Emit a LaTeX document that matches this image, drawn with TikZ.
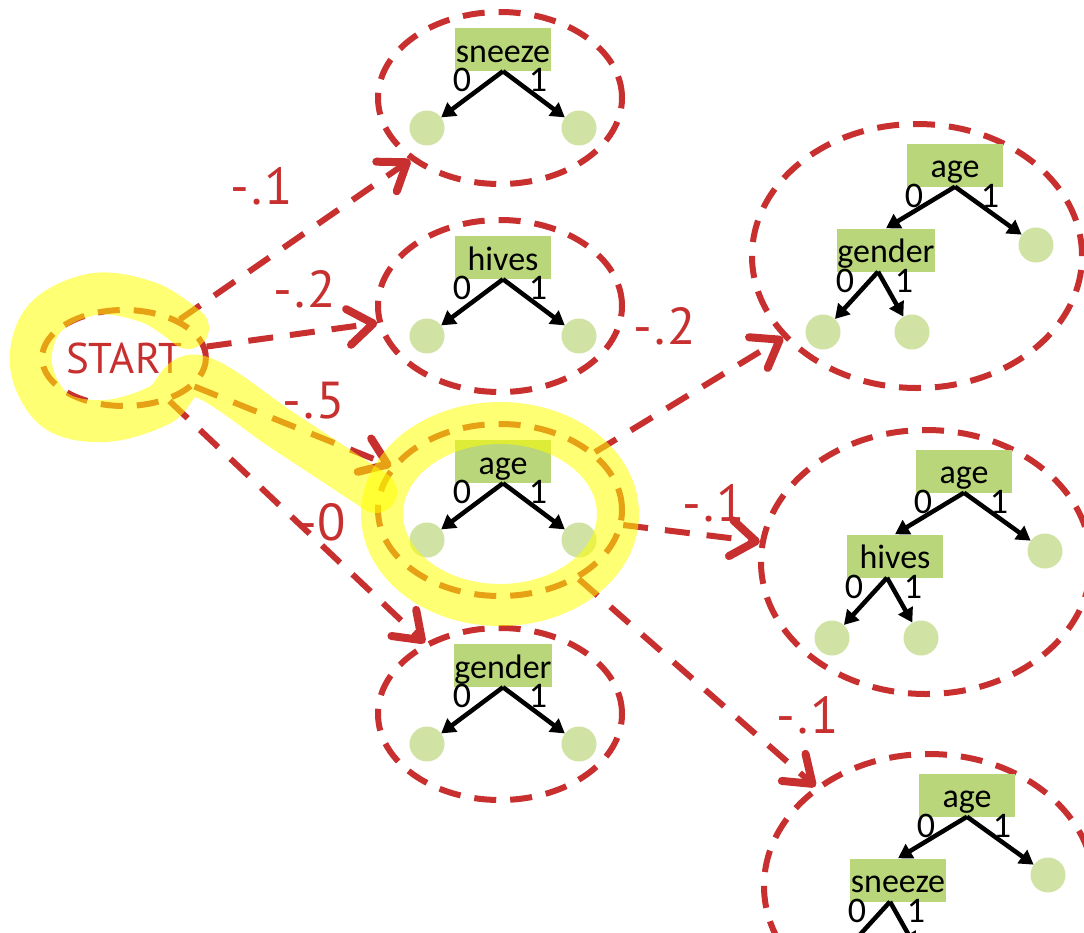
\documentclass[tikz,border=0pt]{standalone}
\usepackage{fontspec}
\setmainfont{Carlito}
\newfontfamily\weightfont{PT Sans}
\usetikzlibrary{shapes.geometric,arrows.meta}

\definecolor{edgered}{RGB}{200,48,48}
\definecolor{boxgreen}{RGB}{185,214,122}
\definecolor{leafgreen}{RGB}{208,227,165}
\definecolor{marker}{RGB}{255,255,0}

\tikzset{
  treebox/.style={fill=boxgreen, inner sep=0pt, minimum width=96pt,
    text height=34pt, text depth=9pt, font=\fontsize{34pt}{40pt}\selectfont},
  leaf/.style={circle, fill=leafgreen, minimum size=35pt, inner sep=0pt},
  branch/.style={draw=black, line width=4.5pt, -{Triangle[length=14pt,width=16pt]}},
  bit/.style={inner sep=0pt, font=\fontsize{36pt}{40pt}\selectfont},
  oval/.style={ellipse, draw=edgered, line width=6pt, dash pattern=on 22pt off 14pt, inner sep=0pt},
  ovalS/.style={oval, minimum width=244pt, minimum height=172pt},
  ovalL/.style={oval, minimum width=330pt, minimum height=264pt},
  move/.style={draw=edgered, line width=6pt, dash pattern=on 25pt off 17pt,
    -{Straight Barb[length=25pt,width=36pt,line width=8pt,round]}},
  weight/.style={text=edgered, inner sep=0pt, font=\weightfont\fontsize{52pt}{56pt}\selectfont},
  markerstroke/.style={draw=marker, draw opacity=0.55, line width=42pt, line cap=round, line join=round},
}

% a one-split tree inside a small dashed oval
\newcommand\mkLeftTree[3]{%
  \node[ovalS] (#1) at (500,#2) {};
  \node[treebox] (#1b) at (503,{#2-48.5}) {#3};
  \node[leaf] (#1l) at (427,{#2+30}) {};
  \node[leaf] (#1r) at (579,{#2+30}) {};
  \draw[branch] (#1b.south) -- (#1l);
  \draw[branch] (#1b.south) -- (#1r);
  \node[bit] at ([xshift=-41pt,yshift=-9pt]#1b.south) {0};
  \node[bit] at ([xshift=35pt,yshift=-9pt]#1b.south) {1};
}

% a two-level tree (age, then a second split) inside a large dashed oval
\newcommand\mkRightTree[4]{%
  \node[ovalL] (#1) at (#2,#3) {};
  \node[treebox] (#1b) at ({#2+38},{#3-91}) {age};
  \node[treebox] (#1c) at ({#2-31},{#3-6}) {#4};
  \node[leaf] (#1r) at ({#2+119},{#3-11}) {};
  \node[leaf] (#1p) at ({#2-94},{#3+76}) {};
  \node[leaf] (#1q) at ({#2-5},{#3+76}) {};
  \draw[branch] (#1b.south) -- (#1c.north);
  \draw[branch] (#1b.south) -- (#1r);
  \coordinate (#1v) at ([xshift=-8pt]#1c.south);
  \draw[branch] (#1v) -- (#1p);
  \draw[branch] (#1v) -- (#1q);
  \node[bit] at ([xshift=-41pt,yshift=-9pt]#1b.south) {0};
  \node[bit] at ([xshift=35pt,yshift=-9pt]#1b.south) {1};
  \node[bit] at ([xshift=-41pt,yshift=-9pt]#1c.south) {0};
  \node[bit] at ([xshift=18pt,yshift=-9pt]#1c.south) {1};
}

\begin{document}
\begin{tikzpicture}[x=1pt,y=-1pt]
\clip (0,0) rectangle (1084,932);
\fill[white] (0,0) rectangle (1084,932);

% start state
\node[ellipse, draw=edgered, line width=6pt, dash pattern=on 22pt off 14pt,
      minimum width=142pt, minimum height=96pt, inner sep=0pt,
      text=edgered, font=\weightfont\fontsize{43pt}{48pt}\selectfont] (start) at (124,358) {START};

% first-step candidates
\mkLeftTree{sn}{98}{sneeze}
\mkLeftTree{hv}{306}{hives}
\mkLeftTree{ag}{510}{age}
\mkLeftTree{gd}{714}{gender}

% second-step candidates
\mkRightTree{ra}{917}{256}{gender}
\mkRightTree{rb}{926}{562}{hives}
\mkRightTree{rc}{929}{886}{sneeze}

% moves with their score changes
\draw[move] (start) -- (sn);
\draw[move] (start) -- (hv);
\draw[move] (start) -- (ag);
\draw[move] (start) -- (gd);
\draw[move] (ag) -- (ra);
\draw[move] (ag) -- (rb);
\draw[move] (ag) -- (rc);

\node[weight] (w1) at (262,186) {-\kern2pt.\kern2pt1};
\node[weight] (w2) at (305,289) {-\kern2pt.\kern2pt2};
\node[weight] (w3) at (314,401) {-\kern2pt.\kern2pt5};
\node[weight] (w4) at (322,522) {-0};
\node[weight] (w5) at (665,326) {-\kern2pt.\kern2pt2};
\node[weight] (w6) at (714,503) {-\kern2pt.\kern2pt1};
\node[weight] (w7) at (808,715) {-\kern2pt.\kern2pt1};

% highlighted path through the best move
\draw[markerstroke] plot[smooth, tension=0.6] coordinates
  {(188,328) (150,303) (95,294) (45,318) (31,365) (55,410) (105,421) (160,405) (198,376) (285,432) (376,492)};
\draw[markerstroke] (500,514) ellipse [x radius=118pt, y radius=91pt];
\end{tikzpicture}
\end{document}
